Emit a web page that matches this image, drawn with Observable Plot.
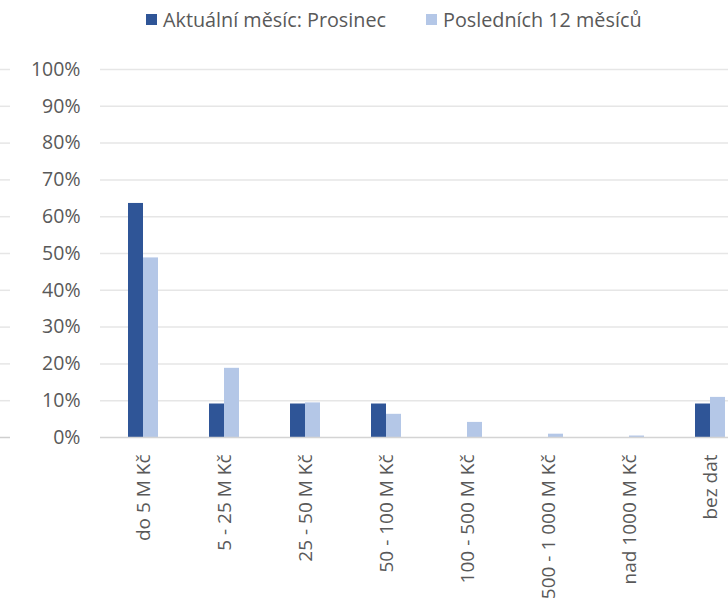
<!DOCTYPE html>
<html>
<head>
<meta charset="utf-8">
<script src="https://cdn.jsdelivr.net/npm/d3@7"></script>
<script src="https://cdn.jsdelivr.net/npm/@observablehq/plot@0.6"></script>
<style>
  html, body { margin: 0; padding: 0; background: #fff; overflow: hidden; width: 728px; height: 604px; }
  #legend { position: absolute; top: 0; left: 0; width: 728px; height: 40px; font-family: "Open Sans", sans-serif; font-size: 19.8px; color: #595959; }
  .item { position: absolute; top: 6px; display: flex; align-items: center; white-space: nowrap; }
  .sw { width: 11px; height: 11px; margin-right: 6px; }
  #chart { position: absolute; top: 40px; left: 0; }
</style>
</head>
<body>
<div id="legend"></div>
<div id="chart"></div>
<script>
const categories = ["do 5 M Kč", "5 - 25 M Kč", "25 - 50 M Kč", "50 - 100 M Kč", "100 - 500 M Kč", "500 - 1 000 M Kč", "nad 1000 M Kč", "bez dat"];
const seriesNames = ["Aktuální měsíc: Prosinec", "Posledních 12 měsíců"];
const current = [63.6, 9.1, 9.1, 9.1, 0, 0, 0, 9.1];
const last12 = [48.8, 18.8, 9.4, 6.3, 4.1, 0.9, 0.4, 10.9];
const yTicks = [0, 10, 20, 30, 40, 50, 60, 70, 80, 90, 100];
const colors = ["#2F5597", "#B4C7E7"];

const rows = categories.map((c, i) => ({category: c, current: current[i], last12: last12[i]}));

// legend
const legend = document.getElementById("legend");
const lefts = [146, 426];
seriesNames.forEach((name, i) => {
  const it = document.createElement("div");
  it.className = "item";
  it.style.left = lefts[i] + "px";
  it.innerHTML = `<div class="sw" style="background:${colors[i]}"></div><span>${name}</span>`;
  legend.appendChild(it);
});

const chart = Plot.plot({
  width: 728,
  height: 564,
  marginTop: 29,
  marginBottom: 167,
  marginLeft: 100,
  marginRight: 0,
  style: {fontFamily: "Open Sans, sans-serif", color: "#595959", background: "#fff"},
  x: {domain: categories, range: [100, 753.6], paddingInner: 0.633, paddingOuter: 0.3165},
  y: {domain: [0, 100]},
  marks: [
    Plot.gridY(yTicks.filter(d => d > 0), {stroke: "#e6e6e6", strokeOpacity: 1, strokeWidth: 1.5}),
    Plot.ruleY(yTicks.filter(d => d > 0), {stroke: "#e6e6e6", strokeWidth: 1.5, dx: -100, insetRight: 618}),
    Plot.ruleY([0], {stroke: "#cfcfcf", strokeWidth: 1.5, dx: -100, insetRight: 618}),
    Plot.barY(rows, {x: "category", y: "current", fill: colors[0], insetRight: 15}),
    Plot.barY(rows, {x: "category", y: "last12", fill: colors[1], insetLeft: 15}),
    Plot.ruleY([0], {stroke: "#d4d4d4", strokeWidth: 1.5}),
    Plot.axisY({ticks: yTicks, tickSize: 0, tickPadding: 20, tickFormat: d => d + "%", fontSize: 19.5, fill: "#595959", label: null}),
    Plot.axisX({tickSize: 0, tickPadding: 17, tickRotate: -90, fontSize: 19, fill: "#595959", label: null})
  ]
});
document.getElementById("chart").appendChild(chart);
</script>
</body>
</html>
